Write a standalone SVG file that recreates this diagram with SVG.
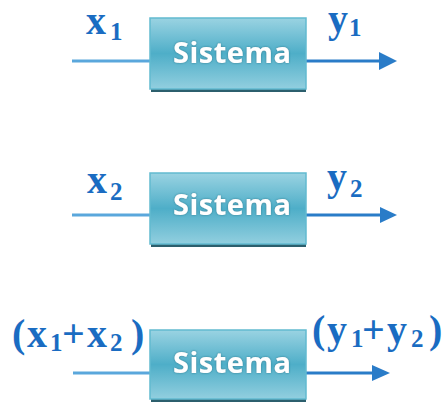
<svg xmlns="http://www.w3.org/2000/svg" width="445" height="403" viewBox="0 0 445 403">
<defs>
<linearGradient id="boxg" x1="0" y1="0" x2="0" y2="1">
<stop offset="0" stop-color="#9ad3e2"/>
<stop offset="0.5" stop-color="#4eaec8"/>
<stop offset="1" stop-color="#92cfdf"/>
</linearGradient>
<filter id="glow" x="-10%" y="-30%" width="120%" height="160%">
<feDropShadow dx="0" dy="0" stdDeviation="1.2" flood-color="#2b6f82" flood-opacity="0.8"/>
</filter>
</defs>
<style>
.box{fill:url(#boxg);stroke:#62bad0;stroke-width:1.5}
.shadow{fill:#2c5f6d}
.lbl{font-family:"Open Sans","Liberation Sans",Arial,sans-serif;font-weight:bold;font-size:29px;fill:#ffffff;filter:url(#glow)}
.in{stroke:#5aa7dc;stroke-width:3;fill:none}
.out{stroke:#2a7cc8;stroke-width:3;fill:none}
.head{fill:#2a7cc8}
.m{font-family:"Liberation Serif","Times New Roman",serif;font-weight:bold;font-size:40px;fill:#1a6cc2}
.s{font-family:"Liberation Serif","Times New Roman",serif;font-weight:bold;font-size:25px;fill:#1a6cc2}
</style>
<g id="connectors">
<line class="in" x1="72" y1="61" x2="150" y2="61"/>
<line class="out" x1="306" y1="61" x2="381" y2="61"/>
<path class="head" d="M379,52 L397,61 L379,70 Z"/>
<line class="in" x1="72" y1="215" x2="150" y2="215"/>
<line class="out" x1="306" y1="215" x2="381" y2="215"/>
<path class="head" d="M380,207 L397,215 L380,223 Z"/>
<line class="in" x1="73" y1="373" x2="150" y2="373"/>
<line class="out" x1="306" y1="373" x2="374" y2="373"/>
<path class="head" d="M372,365 L390,373 L372,381 Z"/>
</g>
<g id="node1">
<rect class="shadow" x="151" y="87" width="155" height="5"/>
<rect class="box" x="150" y="18" width="156" height="71"/>
<text class="lbl" x="232" y="63" text-anchor="middle" textLength="118">Sistema</text>
</g>
<g id="node2">
<rect class="shadow" x="151" y="242" width="155" height="5"/>
<rect class="box" x="150" y="173" width="156" height="71"/>
<text class="lbl" x="232" y="215" text-anchor="middle" textLength="118">Sistema</text>
</g>
<g id="node3">
<rect class="shadow" x="151" y="397" width="155" height="5"/>
<rect class="box" x="150" y="330" width="156" height="69"/>
<text class="lbl" x="232" y="373" text-anchor="middle" textLength="118">Sistema</text>
</g>
<g id="labels">
<text class="m" x="86" y="34">x</text><text class="s" x="110" y="40">1</text>
<text class="m" x="328" y="32">y</text><text class="s" x="349" y="36">1</text>
<text class="m" x="87" y="193">x</text><text class="s" x="110" y="200">2</text>
<text class="m" x="327" y="190">y</text><text class="s" x="350" y="197">2</text>
<text class="m" x="12" y="347">(</text><text class="m" x="27" y="347">x</text><text class="s" x="50" y="351">1</text><text class="m" x="62" y="347">+</text><text class="m" x="87" y="347">x</text><text class="s" x="110" y="351">2</text><text class="m" x="131" y="347">)</text>
<text class="m" x="312" y="343">(</text><text class="m" x="327" y="343">y</text><text class="s" x="351" y="347">1</text><text class="m" x="362" y="343">+</text><text class="m" x="387" y="343">y</text><text class="s" x="411" y="347">2</text><text class="m" x="429" y="343">)</text>
</g>
</svg>
